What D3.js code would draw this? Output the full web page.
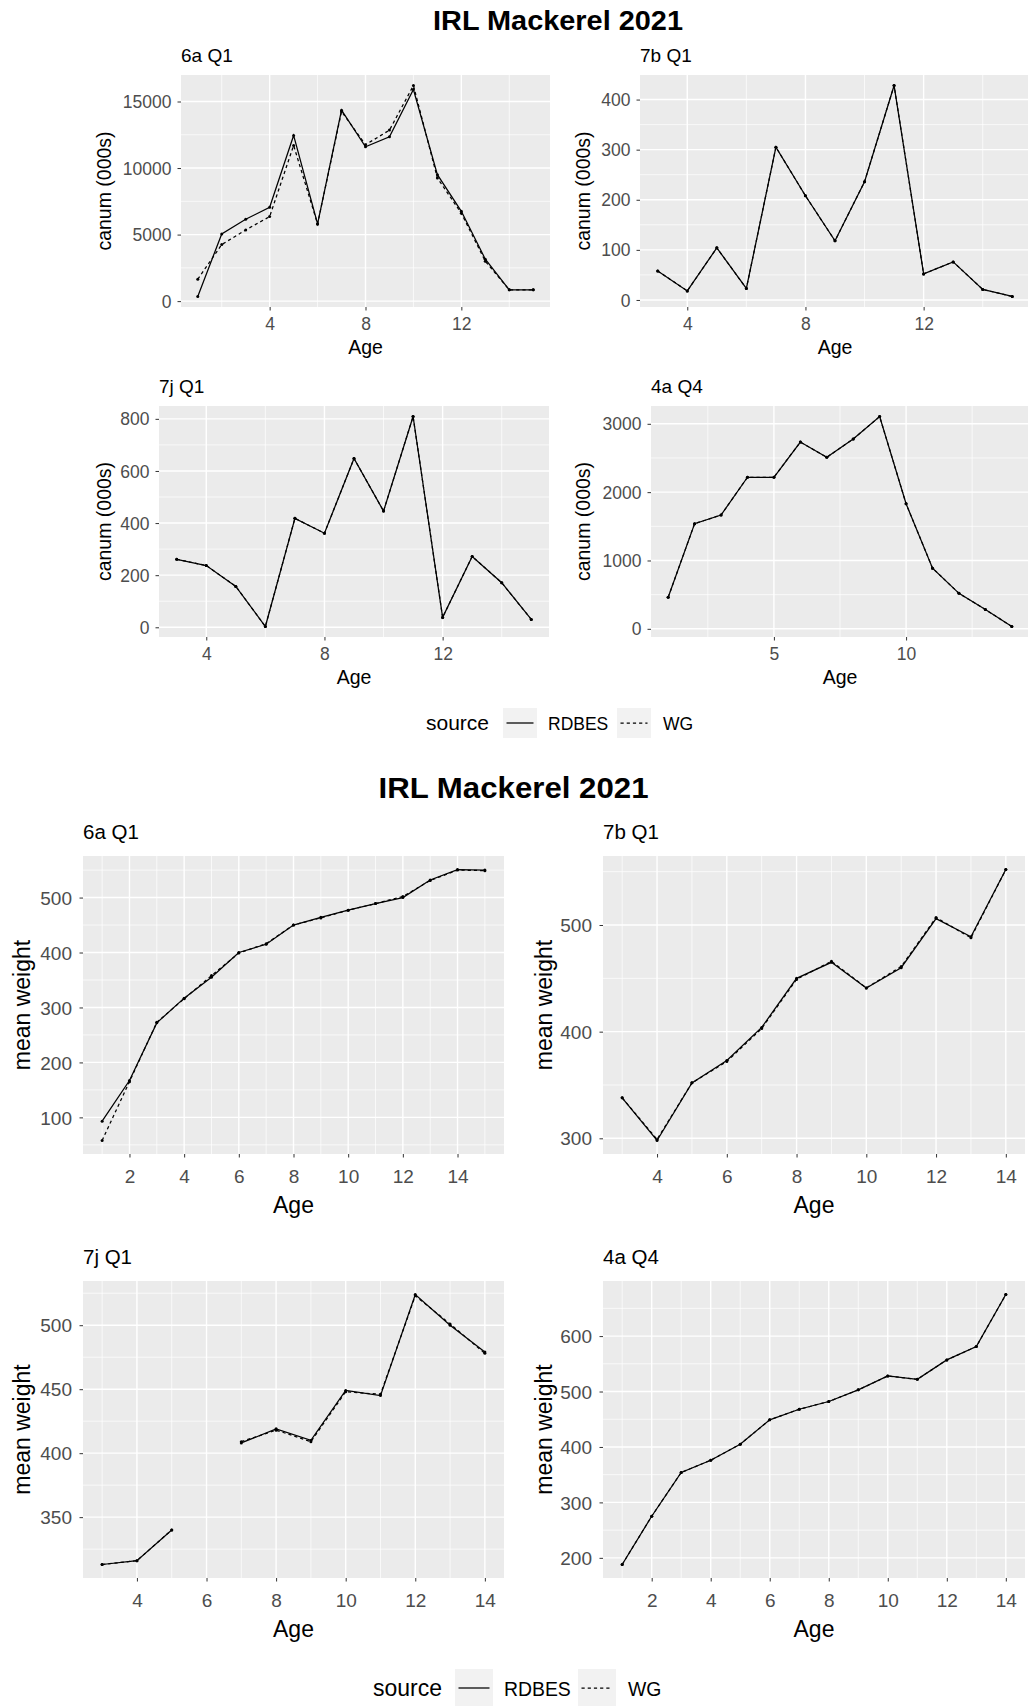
<!DOCTYPE html>
<html><head><meta charset="utf-8">
<script src="https://cdn.jsdelivr.net/npm/d3@7"></script>
<style>
body{margin:0;background:#fff}
svg{display:block}
text{font-family:"Liberation Sans",Arial,Helvetica,sans-serif}
</style>
</head><body>
<svg id="chart" width="1028" height="1706"></svg>
<script>
// ---------------- DATA ----------------
const chartTitle = "IRL Mackerel 2021";
const legendTitle = "source";
const sourceNames = ["RDBES", "WG"];

// canum (000s)
const canum6aAges  = [1,2,3,4,5,6,7,8,9,10,11,12,13,14,15];
const canum6aRDBES = [350,5050,6150,7050,12450,5800,14350,11600,12350,15900,9500,6750,3150,850,850];
const canum6aWG    = [1650,4250,5350,6350,11700,5800,14250,11750,12850,16200,9250,6600,3000,850,850];

const canum7bAges  = [3,4,5,6,7,8,9,10,11,12,13,14,15];
const canum7bRDBES = [58,18,104,23,305,208,118,236,428,52,76,21,7];
const canum7bWG    = [58,18,104,23,305,208,118,236,428,52,76,21,7];

const canum7jAges  = [3,4,5,6,7,8,9,10,11,12,13,14,15];
const canum7jRDBES = [261,237,157,3,418,361,648,446,809,38,272,171,30];
const canum7jWG    = [261,237,157,3,418,361,648,446,809,38,272,171,30];

const canum4aAges  = [1,2,3,4,5,6,7,8,9,10,11,12,13,14];
const canum4aRDBES = [461,1539,1665,2218,2218,2733,2510,2777,3107,1830,888,519,282,34];
const canum4aWG    = [461,1539,1665,2218,2218,2733,2510,2777,3107,1830,888,519,282,34];

// mean weight
const wt6aAges  = [1,2,3,4,5,6,7,8,9,10,11,12,13,14,15];
const wt6aRDBES = [93,167,272,317,355,400,415,450,464,477,489,500,532,551,550];
const wt6aWG    = [58,165,273,316,358,399,416,450,463,477,489,502,531,550,549];

const wt7bAges  = [3,4,5,6,7,8,9,10,11,12,13,14];
const wt7bRDBES = [338,298,352,373,404,450,465,441,460,506,489,552];
const wt7bWG    = [338,299,352,372,403,449,466,441,461,507,488,552];

const wt7jAges  = [3,4,5,6,7,8,9,10,11,12,13,14];
const wt7jRDBES = [313,316,340,null,408,419,410,449,445,524,500,479];
const wt7jWG    = [313,316,340,null,409,418,409,448,446,523,501,478];

const wt4aAges  = [1,2,3,4,5,6,7,8,9,10,11,12,13,14];
const wt4aRDBES = [188,275,354,376,405,449,468,482,503,528,522,557,581,675];
const wt4aWG    = [188,275,354,376,405,449,468,482,503,528,522,557,581,675];

// tick labels
const xTicksCanumA = [4,8,12];
const xTicksCanum4a = [5,10];
const yTicks6aCanum = [0,5000,10000,15000];
const yTicks7bCanum = [0,100,200,300,400];
const yTicks7jCanum = [0,200,400,600,800];
const yTicks4aCanum = [0,1000,2000,3000];
const xTicksWt = [2,4,6,8,10,12,14];
const xTicksWt7 = [4,6,8,10,12,14];
const yTicks6aWt = [100,200,300,400,500];
const yTicks7bWt = [300,400,500];
const yTicks7jWt = [350,400,450,500];
const yTicks4aWt = [200,300,400,500,600];

const panelTitles = ["6a Q1", "7b Q1", "7j Q1", "4a Q4"];

// ---------------- DRAWING ----------------
const svg = d3.select("#chart");
const BG = "#EBEBEB", TICKTXT = "#4D4D4D";

function expand(ext) { const r = ext[1] - ext[0]; return [ext[0] - 0.05 * r, ext[1] + 0.05 * r]; }
function minorOf(major, dom) {
  const step = major[1] - major[0];
  const ext = [major[0] - step].concat(major, [major[major.length - 1] + step]);
  const out = [];
  for (let i = 0; i < ext.length - 1; i++) {
    const m = (ext[i] + ext[i + 1]) / 2;
    if (m > dom[0] && m < dom[1]) out.push(m);
  }
  return out;
}

function drawPanel(o, S) {
  const g = svg.append("g");
  const vals = o.rdbes.concat(o.wg).filter(v => v != null);
  const xd = expand(d3.extent(o.ages)), yd = expand(d3.extent(vals));
  const x = d3.scaleLinear().domain(xd).range([o.x0, o.x1]);
  const y = d3.scaleLinear().domain(yd).range([o.y1, o.y0]);

  g.append("rect").attr("x", o.x0).attr("y", o.y0).attr("width", o.x1 - o.x0).attr("height", o.y1 - o.y0).attr("fill", BG);

  const xMaj = o.xTicks.filter(v => v >= xd[0] && v <= xd[1]);
  const yMaj = o.yTicks.filter(v => v >= yd[0] && v <= yd[1]);
  g.selectAll(".vmin").data(minorOf(o.xTicks, xd)).enter().append("line")
    .attr("x1", d => x(d)).attr("x2", d => x(d)).attr("y1", o.y0).attr("y2", o.y1)
    .attr("stroke", "#fff").attr("stroke-width", 0.7);
  g.selectAll(".hmin").data(minorOf(o.yTicks, yd)).enter().append("line")
    .attr("y1", d => y(d)).attr("y2", d => y(d)).attr("x1", o.x0).attr("x2", o.x1)
    .attr("stroke", "#fff").attr("stroke-width", 0.7);
  g.selectAll(".vmaj").data(xMaj).enter().append("line")
    .attr("x1", d => x(d)).attr("x2", d => x(d)).attr("y1", o.y0).attr("y2", o.y1)
    .attr("stroke", "#fff").attr("stroke-width", 1.4);
  g.selectAll(".hmaj").data(yMaj).enter().append("line")
    .attr("y1", d => y(d)).attr("y2", d => y(d)).attr("x1", o.x0).attr("x2", o.x1)
    .attr("stroke", "#fff").attr("stroke-width", 1.4);

  const line = d3.line().defined(d => d[1] != null).x(d => x(d[0])).y(d => y(d[1]));
  const series = [
    { v: o.wg, dash: "3.2,3" },
    { v: o.rdbes, dash: null }
  ];
  series.forEach(s => {
    const pts = o.ages.map((a, i) => [a, s.v[i]]);
    g.append("path").attr("d", line(pts)).attr("fill", "none").attr("stroke", "#000")
      .attr("stroke-width", 1.25).attr("stroke-dasharray", s.dash);
    g.selectAll(null).data(pts.filter(p => p[1] != null)).enter().append("circle")
      .attr("cx", p => x(p[0])).attr("cy", p => y(p[1])).attr("r", 1.5).attr("fill", "#000");
  });

  // axes
  const ax = g.append("g").attr("transform", `translate(0,${o.y1})`)
    .call(d3.axisBottom(x).tickValues(xMaj).tickSize(3.5).tickFormat(d3.format("d")));
  ax.select(".domain").remove();
  ax.selectAll("line").attr("stroke", "#333").attr("stroke-width", 1);
  ax.selectAll("text").attr("y", S.xTickOff).attr("dy", 0).attr("font-size", S.tickSize).attr("fill", TICKTXT);

  const ay = g.append("g").attr("transform", `translate(${o.x0},0)`)
    .call(d3.axisLeft(y).tickValues(yMaj).tickSize(3.5).tickFormat(d3.format("d")));
  ay.select(".domain").remove();
  ay.selectAll("line").attr("stroke", "#333").attr("stroke-width", 1);
  ay.selectAll("text").attr("x", -S.yLabGap).attr("dy", "0.35em").attr("font-size", S.tickSize).attr("fill", TICKTXT);

  // axis titles
  g.append("text").attr("x", (o.x0 + Math.min(o.x1, 1028 + 0)) / 2 + (o.x1 > 1026 ? 0 : 0)).attr("y", o.y1 + S.xTitleOff)
    .attr("text-anchor", "middle").attr("font-size", S.axisSize).attr("fill", "#000").text("Age")
    .attr("x", (o.x0 + o.x1) / 2);
  g.append("text").attr("transform", `translate(${o.yTitleX},${(o.y0 + o.y1) / 2}) rotate(-90)`)
    .attr("text-anchor", "middle").attr("font-size", S.axisSize).attr("fill", "#000").text(o.ylab);

  // panel title
  g.append("text").attr("x", o.x0).attr("y", o.y0 - S.subOff).attr("font-size", S.subSize)
    .attr("fill", "#000").text(o.title);
}

function drawLegend(L) {
  const g = svg.append("g");
  g.append("text").attr("x", L.titleX).attr("y", L.base).attr("font-size", L.titleSize).attr("fill", "#000").text(legendTitle);
  sourceNames.forEach((name, i) => {
    const kx = L.keyX[i];
    g.append("rect").attr("x", kx).attr("y", L.keyY).attr("width", L.keyW).attr("height", L.keyH).attr("fill", "#F2F2F2");
    g.append("line").attr("x1", kx + 3.5).attr("x2", kx + L.keyW - 3.5)
      .attr("y1", L.keyY + L.keyH / 2).attr("y2", L.keyY + L.keyH / 2)
      .attr("stroke", "#000").attr("stroke-width", 1.25)
      .attr("stroke-dasharray", i === 1 ? "3.2,3" : null);
    g.append("text").attr("x", L.textX[i]).attr("y", L.base).attr("font-size", L.textSize).attr("fill", "#000").text(name);
  });
}

// ---- top section: canum ----
const Stop = { tickSize: 17.5, axisSize: 19.5, subSize: 19, xTickOff: 23, xTitleOff: 46.5, yLabGap: 9.5, subOff: 13.3 };
svg.append("text").attr("x", 558).attr("y", 30).attr("text-anchor", "middle").attr("font-size", 27)
  .attr("font-weight", "bold").attr("textLength", 250).attr("lengthAdjust", "spacingAndGlyphs").text(chartTitle);

drawPanel({ x0: 181, x1: 550, y0: 75, y1: 307, ages: canum6aAges, rdbes: canum6aRDBES, wg: canum6aWG,
  xTicks: xTicksCanumA, yTicks: yTicks6aCanum, title: panelTitles[0], ylab: "canum (000s)", yTitleX: 111 }, Stop);
drawPanel({ x0: 640, x1: 1030, y0: 75, y1: 307, ages: canum7bAges, rdbes: canum7bRDBES, wg: canum7bWG,
  xTicks: xTicksCanumA, yTicks: yTicks7bCanum, title: panelTitles[1], ylab: "canum (000s)", yTitleX: 590 }, Stop);
drawPanel({ x0: 159, x1: 549, y0: 406, y1: 637, ages: canum7jAges, rdbes: canum7jRDBES, wg: canum7jWG,
  xTicks: xTicksCanumA, yTicks: yTicks7jCanum, title: panelTitles[2], ylab: "canum (000s)", yTitleX: 111 }, Stop);
drawPanel({ x0: 651, x1: 1029, y0: 406, y1: 637, ages: canum4aAges, rdbes: canum4aRDBES, wg: canum4aWG,
  xTicks: xTicksCanum4a, yTicks: yTicks4aCanum, title: panelTitles[3], ylab: "canum (000s)", yTitleX: 590 }, Stop);

drawLegend({ titleX: 426, titleSize: 21, textSize: 17.5, base: 730, keyX: [503, 617], keyY: 708, keyW: 34, keyH: 30, textX: [548, 663] });

// ---- bottom section: mean weight ----
const Sbot = { tickSize: 19, axisSize: 23, subSize: 20.5, xTickOff: 29, xTitleOff: 59, yLabGap: 11, subOff: 17 };
svg.append("text").attr("x", 513.5).attr("y", 797.7).attr("text-anchor", "middle").attr("font-size", 30)
  .attr("font-weight", "bold").attr("textLength", 270).attr("lengthAdjust", "spacingAndGlyphs").text(chartTitle);

drawPanel({ x0: 83, x1: 504, y0: 856, y1: 1154, ages: wt6aAges, rdbes: wt6aRDBES, wg: wt6aWG,
  xTicks: xTicksWt, yTicks: yTicks6aWt, title: panelTitles[0], ylab: "mean weight", yTitleX: 30 }, Sbot);
drawPanel({ x0: 603, x1: 1025, y0: 856, y1: 1154, ages: wt7bAges, rdbes: wt7bRDBES, wg: wt7bWG,
  xTicks: xTicksWt7, yTicks: yTicks7bWt, title: panelTitles[1], ylab: "mean weight", yTitleX: 552 }, Sbot);
drawPanel({ x0: 83, x1: 504, y0: 1281, y1: 1578, ages: wt7jAges, rdbes: wt7jRDBES, wg: wt7jWG,
  xTicks: xTicksWt7, yTicks: yTicks7jWt, title: panelTitles[2], ylab: "mean weight", yTitleX: 30 }, Sbot);
drawPanel({ x0: 603, x1: 1025, y0: 1281, y1: 1578, ages: wt4aAges, rdbes: wt4aRDBES, wg: wt4aWG,
  xTicks: xTicksWt, yTicks: yTicks4aWt, title: panelTitles[3], ylab: "mean weight", yTitleX: 552 }, Sbot);

drawLegend({ titleX: 373, titleSize: 23, textSize: 19.4, base: 1696, keyX: [455, 578], keyY: 1669, keyW: 38, keyH: 38, textX: [504, 628] });
</script>
</body></html>
